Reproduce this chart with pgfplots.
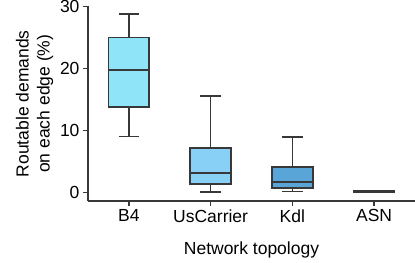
\documentclass[border=0pt]{standalone}
\usepackage{fontspec}
\setmainfont{Liberation Sans}
\usepackage{pgfplots}
\pgfplotsset{compat=1.18}
\usepgfplotslibrary{statistics}
\definecolor{cB}{HTML}{90E4F7}
\definecolor{cU}{HTML}{88D0F5}
\definecolor{cK}{HTML}{5AA5D8}
\definecolor{cA}{HTML}{3F7FB8}
\definecolor{ln}{HTML}{383838}
\begin{document}
\begin{tikzpicture}
\begin{axis}[
  at={(0,0)}, anchor=south west,
  scale only axis, width=327bp, height=194.5bp,
  xmin=-0.5, xmax=3.5, ymin=-1.42, ymax=30,
  axis x line*=bottom, axis y line*=left,
  axis line style={ln, line width=1.4bp},
  tick style={ln, line width=1.4bp},
  tick align=outside, major tick length=5bp,
  xtick={0,1,2,3}, xticklabels={B4,UsCarrier,Kdl,ASN},
  ytick={0,10,20,30},
  /pgf/number format/assume math mode=true,
  tick label style={font=\fontsize{17.5bp}{21bp}\selectfont, text=black},
  label style={font=\fontsize{17.5bp}{21bp}\selectfont, text=black},
  xlabel={Network topology},
  xlabel style={yshift=-13bp},
  ylabel={Routable demands\\on each edge (\%)},
  ylabel style={align=center},
  boxplot/draw direction=y,
  boxplot/box extend=0.5,
  boxplot/whisker extend=0.25,
  every boxplot/.style={draw=ln, line width=1.7bp},
]
\addplot+[mark=none, draw=ln, line width=1.7bp, fill=cB, solid,
  boxplot prepared={draw position=0, median=19.7, upper quartile=25.0,
  lower quartile=13.8, upper whisker=28.8, lower whisker=9.0}] coordinates {};
\addplot+[mark=none, draw=ln, line width=1.7bp, fill=cU, solid,
  boxplot prepared={draw position=1, median=3.13, upper quartile=7.17,
  lower quartile=1.36, upper whisker=15.5, lower whisker=0.0}] coordinates {};
\addplot+[mark=none, draw=ln, line width=1.7bp, fill=cK, solid,
  boxplot prepared={draw position=2, median=1.68, upper quartile=4.1,
  lower quartile=0.71, upper whisker=8.9, lower whisker=0.11}] coordinates {};
\addplot+[mark=none, draw=ln, line width=1.7bp, fill=cA, solid,
  boxplot prepared={draw position=3, median=0.1, upper quartile=0.14,
  lower quartile=0.06, upper whisker=0.16, lower whisker=0.04}] coordinates {};
\end{axis}
\pgfresetboundingbox
\path[use as bounding box] (-88bp,-61.5bp) rectangle (327bp,201bp);
\end{tikzpicture}
\end{document}
